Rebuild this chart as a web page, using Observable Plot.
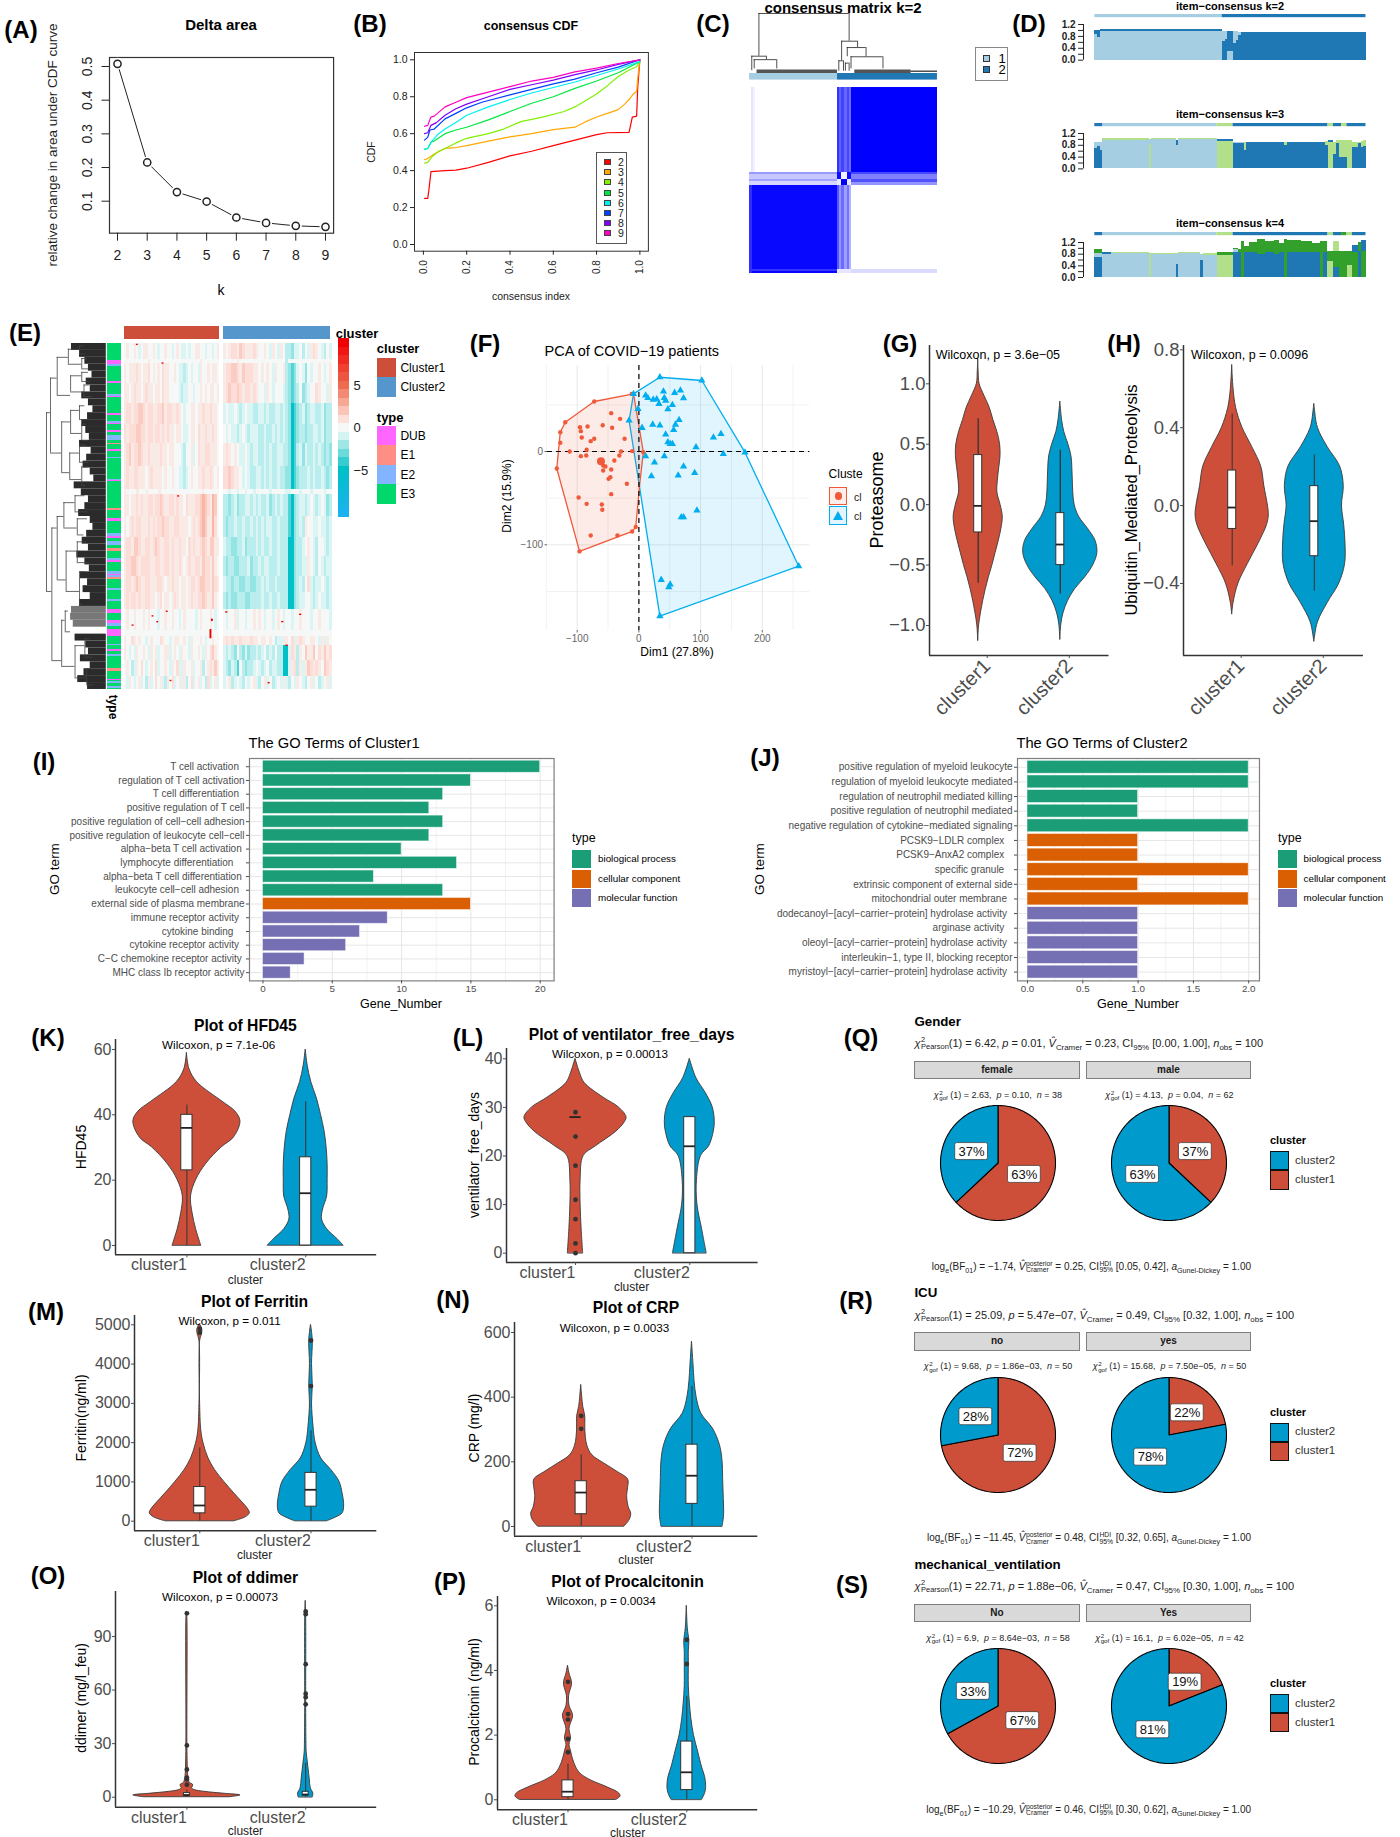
<!DOCTYPE html>
<html><head><meta charset="utf-8">
<script src="https://cdn.jsdelivr.net/npm/d3@7"></script>
<script src="https://cdn.jsdelivr.net/npm/@observablehq/plot@0.6"></script>
<style>
html,body{margin:0;padding:0;background:#fff}
#root{position:relative;width:1400px;height:1837px;overflow:hidden;background:#fff;font-family:"Liberation Sans",Arial,sans-serif}
#root>svg,#root>div{position:absolute}
.t{white-space:pre;line-height:1}
.t sub{font-size:.72em;line-height:0}
.st{display:inline-flex;flex-direction:column;vertical-align:middle;font-size:.68em;line-height:.92;margin-left:.08em}
</style></head><body><div id="root"></div>
<script>
// ---------- DATA ----------
const deltaK=[2,3,4,5,6,7,8,9];
const deltaArea=[0.508,0.215,0.127,0.099,0.0515,0.0356,0.0267,0.0238];
const cdfK=["2","3","4","5","6","7","8","9"];
const cdfColors=["#ff0000","#ffa800","#80f000","#00e840","#00f0f0","#0040ff","#8000ff","#ff00c0"];
const cdf2=[[.005,.25],[.02,.25],[.025,.29],[.035,.395],[.1,.40],[.15,.403],[.2,.413],[.3,.445],[.4,.48],[.5,.505],[.6,.535],[.7,.565],[.8,.595],[.85,.605],[.95,.607],[.965,.69],[.985,.695],[.99,.85],[1,1]];
const cdf3=[[.005,.46],[.02,.465],[.05,.49],[.1,.52],[.15,.525],[.2,.535],[.3,.56],[.4,.583],[.5,.60],[.6,.622],[.7,.635],[.75,.665],[.8,.69],[.85,.71],[.9,.73],[.93,.76],[.95,.785],[.97,.815],[.985,.83],[.99,.9],[1,1]];
const cdf4=[[.005,.44],[.02,.445],[.04,.475],[.07,.505],[.1,.52],[.15,.55],[.2,.575],[.3,.60],[.37,.625],[.45,.665],[.55,.69],[.65,.72],[.7,.745],[.75,.78],[.8,.815],[.85,.86],[.9,.91],[.95,.945],[.98,.96],[.99,.97],[1,1]];
const cdf5=[[.005,.515],[.02,.52],[.035,.555],[.05,.56],[.1,.60],[.15,.62],[.2,.635],[.3,.675],[.4,.72],[.5,.765],[.6,.80],[.7,.845],[.8,.885],[.9,.93],[.95,.96],[1,.99]];
const cdf6=[[.005,.515],[.02,.52],[.04,.56],[.07,.60],[.1,.625],[.15,.66],[.2,.70],[.3,.745],[.4,.785],[.5,.82],[.6,.85],[.7,.88],[.8,.915],[.9,.95],[1,.99]];
const cdf7=[[.005,.565],[.02,.58],[.03,.62],[.05,.625],[.1,.68],[.15,.71],[.2,.74],[.27,.77],[.4,.81],[.5,.84],[.6,.87],[.7,.895],[.8,.93],[.9,.96],[1,1]];
const cdf8=[[.005,.60],[.02,.605],[.035,.645],[.06,.66],[.1,.70],[.15,.735],[.2,.76],[.3,.80],[.4,.84],[.5,.865],[.6,.89],[.7,.92],[.8,.945],[.9,.975],[1,1]];
const cdf9=[[.005,.64],[.02,.645],[.035,.69],[.05,.695],[.1,.745],[.15,.77],[.2,.795],[.3,.825],[.4,.855],[.5,.885],[.6,.905],[.7,.935],[.8,.955],[.9,.98],[1,1]];
// consensus matrix blocks: sample x1,x2,y1,y2, consensus
const matrixBlocks=[[54.4,100,0,45.8,1],[46.8,48,0,45.8,.8],[48,49.2,0,45.8,.62],[49.2,50.6,0,45.8,.74],[50.6,52,0,45.8,.6],[52,53.2,0,45.8,.72],[53.2,54.4,0,45.8,.58],[1,2,0,45.8,.1],[2,3,0,45.8,.06],
[0,46.8,45.8,47,.4],[0,46.8,47,49.4,.22],[54.4,100,45.8,47,.72],[54.4,100,47,49.4,.5],[0,46.8,49.4,50.5,.36],[0,46.8,50.5,53,.16],[54.4,100,49.4,51,.68],[54.4,100,51,53,.42],
[46.8,49.2,45.8,49.4,.95],[49.2,52,45.8,49.4,.05],[52,54.4,45.8,49.4,.95],
[46.8,49.2,49.4,53,.08],[49.2,52,49.4,53,1],[52,54.4,49.4,53,.08],
[0,46.8,53,100,.97],[0,1.5,53,100,.82],[46.8,48,53,100,.66],[48,49.2,53,100,.42],[49.2,50.6,53,100,.58],[50.6,52,53,100,.38],[52,53.2,53,100,.55],[53.2,54.4,53,100,.3],[54.4,100,97.8,100,.14],[46.8,54.4,97.8,100,.1],[0,46.8,97.8,99,.8]];
const matrixAnnot=[[0,46.8,"#a6cee3"],[46.8,100,"#1f78b4"]];
// dendrogram merges: x1,x2,height,leftHeight,rightHeight
const matrixMerges=[[5,53,100,26,52],[1.2,9,26,1,20],[2.5,14.5,20,4,4],[49,57.5,52,18,41],[52,62,41,25,25],[54,71,25,4,4],[47.5,50,18,0,0],[51,53,14,0,0]];
const matrixBase=[[4,46.8,3.5,"#555"],[56,86,3.5,"#555"],[86,100,1.2,"#222"]];
// item-consensus: from,to then stacked colour/height pairs
const itemStrip2=[[0,47,"a"],[47,100,"b"]];
const itemStrip3=[[0,3,"b"],[3,45,"a"],[45,51,"c"],[51,86,"b"],[86,88,"c"],[88,91,"b"],[91,93,"c"],[93,100,"b"]];
const itemStrip4=[[0,3,"b"],[3,45,"a"],[45,51,"c"],[51,86,"b"],[86,88,"c"],[88,91,"b"],[91,93,"d"],[93,95,"c"],[95,100,"b"]];
const itemK2=[[0,1,"a",.85,"b",.15],[1,2,"a",.75,"b",.25],[2,47,"a",.98,"b",.04],[47,48,"b",.62,"a",.33],[48,49,"b",.68,"a",.3],[49,51,"a",.3,"b",.65],[51,52,"b",.55,"a",.4],[52,53,"b",.65,"a",.3],[53,54,"b",.82,"a",.1],[54,100,"b",.92,"a",.01]];
const itemK3=[[0,1,"b",.7,"a",.2],[1,2,"b",.75,"a",.15],[2,3,"b",.62,"a",.28],[3,20,"a",.97,"c",.05],[20,20.8,"c",.82,"a",.18],[21,30,"a",.98,"c",.04],[30,31,"a",.78,"b",.18],[31,45,"a",.98,"c",.04],[45,51,"c",.92,"b",.06],[51,55,"b",.86,"a",.02],[55,56,"b",.62,"c",.27],[56,70,"b",.88,"c",.01],[70,71,"b",.78,"c",.1],[71,85,"b",.88,"c",.01],[85,86,"b",.8,"c",.12],[86,88,"c",.88,"b",.08],[88,89,"b",.48,"c",.4],[89,90,"b",.85,"c",.1],[90,91,"b",.4,"c",.55],[91,93,"b",.4,"a",.0,"c",.55],[93,95,"c",.95],[95,97,"b",.72,"c",.18],[97,98,"b",.85,"c",.05],[98,99,"b",.72,"c",.2],[99,100,"b",.75,"c",.2]];
const itemK4=[[0,3,"b",.7,"a",.14,"d",.12],[3,6,"a",.8,"b",.05],[6,20,"a",.82,"c",.05],[20,20.8,"c",.82],[21,30,"a",.8,"c",.04],[30,31,"b",.45,"a",.35,"c",.03],[31,39,"a",.84,"c",.02],[39,40,"b",.6,"a",.2],[40,45,"a",.76,"c",.06],[45,51,"c",.75,"d",.12],[51,53,"b",.85,"a",.1,"d",.06],[53,54,"b",.85,"d",.1],[54,55,"d",1.25],[55,57,"b",.85,"d",.2],[57,60,"b",.85,"d",.35],[60,63,"b",.8,"d",.5],[63,66,"b",.85,"d",.4],[66,68,"b",.8,"d",.47],[68,70,"b",.85,"d",.3],[70,71,"d",1.3],[71,76,"b",.85,"d",.42],[76,80,"b",.85,"d",.38],[80,83,"b",.85,"d",.33],[83,84,"d",1.25],[84,85.7,"b",.85,"d",.4],[85.7,88,"c",.55,"d",.35],[88,90,"b",.35,"d",.55,"c",.35],[90,93,"d",.88,"a",.0],[93,95,"c",.4,"d",.5],[95,97,"d",.85,"b",.25],[97,98,"b",.9,"d",.3],[98,100,"d",.88,"b",.4]];
const itemColors={a:"#a6cee3",b:"#1f78b4",c:"#b2df8a",d:"#33a02c"};
// heatmap E
const heatBands=[0,14,17,35,52,70,87,107,127,131,150,168,185,202,216,231,249,254,262,275,289,300];
const heatLevelNames="abcdefghijkl";
const heatLevelValues=[-6,-5,-3.5,-2.2,-1.5,-.8,0,.6,1.1,1.7,2.5,3.5];
const heatCluster1=["ghgghgfghhgghgfgghggfghgffgfgghhggfggfgh","gggggggggghggggggggggggggggggggghggggggg","hghhhihghhighghgihhgghgffefgfggfhgghghhg","hhghihhghihhghhgihhggggfeffggfgghghghhgh","hiihiijjihiihhiijhiihhihgfgghhghhihhihhg","ihiiijjiihiihiihihihhghhgffghhgihhihhihg","hijhiijihhihhhhihhghhgggfegghfgihhiihhhg","hihhiihhhghihhhhghgghggffefghgghhihhihgh","hgggghggghgggghggggggggggggggggghgggggg","hhghhihihhiihiijihhiihihhgihhhiijkjihkjg","hghihiihhhihihiijiihhiihhhhghihijkjhhkig","hiihjjihhiihijihhiihihhihhgihihhijihjjhh","hiijjihiiiihhiihhiihihhihghihhiihjiihjhg","hiihijihhiihhhiihghhihhghhghiihijjiihjih","hihiihihhiihhghighhghihghhghihhiijihhjhg","ghgghggghghgggfgghgghggfghggggfghggghgfg","gggggggggggggggggggggggggggggggggggggggg","hggihghggfghgggihggfghhgghgfhggghgfgghgg","hgfgfhgghgfhghfgghhfghgfhggfhgghgfhgijhg","ghgefhgigfghgifgghgfhgiffhgghfggheghihjh","gfhgfghfgehfgighfehgifghfhegifghfgeifghf"];
const heatCluster2=["hghiihjihhhihgghgfhgfhgeedffgegfhihgfegf","ggggghgggggggggggggggggegggggggggggggggg","hiijjihjiiihhghghgfhgghedcdfgfdgfgghgfgh","hijiijihiihihggfhgfgggfedcdegdefggihggfh","fgffgfefgffeeffefeeffefedbcdefdeffeefdee","gfgffefgfefffeefeefefefedbcdeedeeffefdee","hihghgffgfeffeefefeeffeedbcefdfeefefeded","iijihhgfgfeeffefefeefeeddbcdeeefefeefede","ggfggfggfggfgggggfgggggffgggfgggfggggfgg","eedefdeeffefefeefdefefeecbdeffefgfefgfde","edeefeefeefefefeffeefeeecbdefehggffgffef","feeddeefdeeefefeefeefeeebbdeefghgfeggfef","edeeddeeefdeefeffeeefeeebbdeeffhgfegfeff","feedeeddeeddeefefeefeeeebbdefegifeffgfef","ededdeeeddeeeefeefeefeeebbdeffggfefgffef","gfgghfggfgghghgfggfghgfggfgghgggfgghgggf","gggggggggggggggggggggggggggggggggggggggg","hihihhihhhihhghhghgeffhhgifhihgghhgfhfhg","fefedgedfdeefefgefegeebbfihehgjhhjgihjhi","fedfecgedeefgfefgeffeebbfhiehfhjihihgjih","fghefgfegfghfeghfgefgfhfegfhgfeghfgefghf"];
const heatOutliers1=[[5,.6,1.2],[15.8,16.8,1.2],[22.4,132,1.2],[17.6,232,1.2],[11.6,236,1.2],[13.6,241,1.2],[3.2,244,1.2],[36.6,239,2],[36,248,8],[19.2,292,1.2]];
const heatOutliers2=[[23,261.5,1.2],[.8,232.6,1.2],[28,234.7,1.2],[21.4,241,1.2],[16.4,294,1.2]];
const heatLegendValues=[-10,-9,-8,-7,-6,-5,-4,-3,-2,-1,0,1,2,3,4,5,6,7,8,9,10];
const geneTypes=["DUB","E1","E2","E3"];
const geneTypeColors=["#ff66ff","#ff8f85","#82b4ff","#00d86b"];
const typeRuns=[[15,18,"DUB"],[18,20,"E2"],[33,35,"DUB"],[44,46,"E2"],[46,47,"DUB"],[61,62,"DUB"],[68,69,"E2"],[69,70,"DUB"],[75,77,"DUB"],[80,84,"E2"],[87,88,"E1"],[92,94,"DUB"],[99,100,"E2"],[118,119,"E2"],[119,120,"DUB"],[143,145,"E1"],[152,154,"DUB"],[165,167,"E2"],[167,169,"DUB"],[172,175,"E2"],[178,180,"E1"],[186,188,"E2"],[188,190,"DUB"],[198,200,"E2"],[200,201,"DUB"],[201,203,"E2"],[203,205,"E1"],[212,214,"E2"],[222,224,"E2"],[231,234,"DUB"],[240,243,"DUB"],[243,245,"E2"],[248,254,"DUB"],[261,262,"E2"],[265,267,"DUB"],[270,271,"E2"],[282,284,"E1"],[291,292,"DUB"],[293,295,"E2"],[297,299,"E2"]];
const leafHeights=[78,60,48,40,32,45,36,55,40,30,42,55,46,38,60,34,44,52,36,28,72,56,40,48,62,36,30,44,54,40,66,48,38,58,42,52,36,60,78,80,74,0,70,46,40,58,36,50,64,42];
const leafShades=[38,39,40];
const geneMerges=[[134,60,215,125,122],[125,30,95,110,100],[110,12,45,85,80],[85,5,18,60,55],[80,28,42,55,50],[100,68,112,80,82],[80,58,78,60,55],[82,95,118,60,55],[60,2,9,50,45],[55,13,22,42,38],[55,25,33,40,36],[50,36,46,38,30],[60,54,66,48,36],[55,70,84,44,40],[60,88,103,44,38],[55,107,123,40,46],[122,160,275,110,100],[110,150,205,95,90],[95,138,160,70,65],[90,180,215,65,60],[70,132,146,48,40],[65,152,166,42,50],[65,172,190,44,36],[60,198,226,46,52],[100,240,280,92,70],[92,232,250,85,80],[70,262,290,48,44],[48,256,272,36,30],[44,282,296,30,28]];
// PCA F
const pcaC1=[[-44.9,41.1],[-30.4,35],[-95.5,26.1],[-94.1,21.8],[-83.2,26.8],[-58.6,28.2],[-43.4,25.4],[-92.6,15],[-72.4,13.6],[-78.1,11.1],[-23.2,13.6],[-127.4,9.3],[-112.2,0],[-94.1,-5],[-85.4,-4.3],[-84.7,1.8],[-57.9,-15],[-54.3,-16.1],[-57.9,-20.4],[-44.9,-19.3],[-49.2,-29.3],[-46.3,-27.5],[-19.5,-34.6],[-44.9,-45.7],[-97.7,-49.3],[-84.7,-56.1],[-60.1,-56.8],[-59.3,-62.5],[-78.1,-90],[-34.7,-90],[-31.8,-4.3],[-39.8,-9.6],[-28.9,0],[-10.9,.4],[-11.6,61.8],[-72.4,53.6],[-119.4,31.4],[-127.4,20.7],[-133.1,-18.2],[-96.2,-107.1],[-10.9,-85.7],[-5.1,-81],[7.2,-.7]];
const pcaC1Mean=[[-61.5,-10.4]];
const pcaC2=[[-1.4,45.7],[5.1,25.4],[10.9,-5],[10.9,60],[14.5,57.5],[23.2,55.7],[28.9,56.1],[39.8,64.3],[41.2,57.5],[43.4,54.6],[57.9,62.9],[67.3,65.4],[72.4,57.1],[32.6,51.1],[54.3,50],[47,45.4],[22.4,28.9],[34,27.9],[59.3,28.9],[65.1,33.9],[56.4,23.2],[43.4,18.2],[47,10],[50.7,8.2],[54.3,8.2],[41.2,-5],[25.3,-11.8],[20.3,-26.4],[72.4,-16.1],[63.7,-25.7],[90.4,-22.9],[92.6,4.6],[94.1,-63.2],[72.4,-70.4],[68.7,-70.4],[36.2,-137.5],[50.7,-142.5],[48.5,-145.4],[120.8,15],[133,18.9],[136.8,-2.5],[172,-1],[259,-122.9],[102,76.1],[34,79.6],[-8.7,61.8],[-15.9,33.2],[34,-176.4]];
const hullC1=[[-8.7,61.8],[-72.4,53.6],[-119.4,31.4],[-127.4,20.7],[-133.1,-18.2],[-96.2,-107.1],[-10.9,-85.7],[-5.1,-81],[1.4,-34.6],[7.2,-.7],[-8.7,61.8]];
const hullC2=[[-8.7,61.8],[34,79.6],[102,76.1],[172,-1],[259,-122.9],[34,-176.4],[-15.9,33.2],[-8.7,61.8]];
// violins: [value, density]
const vG1=[[1.2,0],[1.1,1],[1,3],[.9,14],[.8,26],[.7,34],[.6,43],[.5,49],[.4,50],[.3,47],[.2,44],[.1,43],[0,50],[-.1,55],[-.2,52],[-.3,46],[-.4,39],[-.5,32],[-.6,24],[-.7,17],[-.8,11],[-.9,6],[-1,2],[-1.13,0]];
const vG2=[[.85,0],[.7,4],[.6,9],[.5,18],[.4,25],[.3,27],[.2,28],[.1,29],[0,32],[-.1,42],[-.2,62],[-.3,79],[-.4,83],[-.5,74],[-.6,56],[-.7,33],[-.8,17],[-.9,7],[-1,2],[-1.12,0]];
const vH1=[[.72,0],[.6,3],[.5,9],[.4,23],[.3,45],[.2,65],[.1,72],[0,80],[-.05,82],[-.1,78],[-.2,58],[-.3,35],[-.4,14],[-.5,3],[-.56,0]];
const vH2=[[.52,0],[.5,1],[.4,8],[.3,30],[.2,58],[.1,66],[0,62],[-.1,67],[-.2,70],[-.3,69],[-.4,56],[-.5,30],[-.6,8],[-.7,0]];
const vK1=[[0,28],[5,18],[10,11],[15,8],[20,18],[25,38],[30,68],[33,92],[38,105],[41,95],[44,70],[50,20],[54,5],[59,0]];
const vK2=[[0,74],[2,62],[5,42],[8,32],[11,34],[15,42],[20,43],[25,43],[30,41],[35,37],[40,30],[45,22],[50,11],[55,4],[60,0]];
const vL1=[[0,15],[5,12],[10,10],[15,10],[20,16],[22,40],[25,80],[27,97],[28,100],[30,85],[32,55],[35,18],[37,9],[40,0]];
const vL2=[[0,33],[5,24],[10,15],[15,14],[20,22],[22,38],[25,47],[27,49],[30,45],[33,31],[36,13],[40,0]];
const vM1=[[0,68],[100,90],[200,98],[300,95],[500,82],[700,68],[1000,48],[1300,30],[1600,17],[2000,7],[2300,3],[2800,1],[4600,.8],[4750,4],[4870,5],[5000,1]];
const vM2=[[0,32],[100,50],[200,62],[400,65],[700,62],[1000,56],[1300,40],[1600,20],[2000,9],[2400,5],[3000,2],[3440,3.5],[4000,2],[4600,3.5],[5000,0]];
const vN1=[[0,85],[20,95],[40,98],[60,93],[95,90],[120,92],[145,92],[170,70],[195,45],[220,22],[250,12],[300,8],[340,8],[370,4],[400,2],[438,0]];
const vN2=[[0,60],[20,62],[40,63],[100,62],[150,61],[200,60],[250,55],[300,42],[350,18],[400,9],[450,5],[500,3],[572,0]];
const vO1=[[0,85],[1,105],[2,70],[3,35],[4,15],[5,10],[6,12],[7,12],[8,6],[11,3],[15,2],[30,1],[100,1],[104,0]];
const vO2=[[0,14],[2,15],[5,10],[10,8],[15,6],[20,4],[25,2],[30,1.5],[50,1],[100,1],[110,0]];
const vP1=[[0,95],[.1,103],[.2,100],[.4,75],[.6,45],[.8,25],[1,16],[1.3,9],[1.5,6],[1.7,3],[1.9,6],[2.2,3],[2.6,10],[2.9,3],[3.2,2],[3.6,8],[3.9,3],[4.15,0]];
const vP2=[[0,30],[.2,36],[.4,38],[.7,36],[1,30],[1.5,22],[2,14],[2.5,9],[3,6],[3.5,4],[4.2,4],[4.6,4],[4.9,5],[5.3,2],[6,0]];
// boxes: whiskerLow,q1,median,q3,whiskerHigh
const bG1=[-.65,-.23,-.01,.41,.71], bG2=[-.74,-.5,-.33,-.07,.45];
const bH1=[-.31,-.12,-.01,.18,.47], bH2=[-.44,-.26,-.08,.1,.26];
const bK1=[0,23,36,40,43], bK2=[0,0,16,27,44];
const bL1=[28,28,28,28,28], bL2=[0,0,22,28,28];
const bM1=[0,200,400,870,1870], bM2=[0,370,800,1230,2300];
const bN1=[0,38,105,140,222], bN2=[0,70,157,253,433];
const bO1=[0,.8,1.2,2.3,4], bO2=[0,1,1.5,3,19];
const bP1=[0,.08,.25,.6,1.1], bP2=[0,.3,.85,1.8,3.2];
const oL1=[29,24,18,11,7,2,0], oM1=[4800,4900], oM2=[3440,4600], oN1=[302,342];
const oO1=[103,29,15.5,11,10,7], oO2=[104,102.5,74.5,58,56,52];
const oP1=[1.47,1.88,2.48,2.65,3.65], oP2=[4.2,4.95];
// GO terms
const goTypes=["biological process","cellular component","molecular function"];
const goColors=["#1b9e77","#d95f02","#7570b3"];
const nb="\u00a0";
const goTerms1=["T cell activation"+nb+nb,"regulation of T cell activation","T cell differentiation"+nb+nb,"positive regulation of T cell","positive regulation of cell−cell adhesion","positive regulation of leukocyte cell−cell","alpha−beta T cell activation"+nb,"lymphocyte differentiation"+nb+nb+nb+nb,"alpha−beta T cell differentiation"+nb,"leukocyte cell−cell adhesion"+nb+nb,"external side of plasma membrane","immune receptor activity"+nb+nb,"cytokine binding"+nb+nb+nb+nb,"cytokine receptor activity"+nb+nb,"C−C chemokine receptor activity"+nb,"MHC class Ib receptor activity"];
const goCounts1=[20,15,13,12,13,12,10,14,8,13,15,9,7,6,3,2];
const goTypeIdx1=[0,0,0,0,0,0,0,0,0,0,1,2,2,2,2,2];
const goTerms2=["positive regulation of myeloid leukocyte","regulation of myeloid leukocyte mediated","regulation of neutrophil mediated killing","positive regulation of neutrophil mediated","negative regulation of cytokine−mediated signaling","PCSK9−LDLR complex"+nb+nb+nb,"PCSK9−AnxA2 complex"+nb+nb+nb,"specific granule"+nb+nb+nb,"extrinsic component of external side","mitochondrial outer membrane"+nb+nb,"dodecanoyl−[acyl−carrier−protein] hydrolase activity"+nb+nb,"arginase activity"+nb+nb+nb,"oleoyl−[acyl−carrier−protein] hydrolase activity"+nb+nb,"interleukin−1, type II, blocking receptor","myristoyl−[acyl−carrier−protein] hydrolase activity"+nb+nb];
const goCounts2=[2,2,1,1,2,1,1,2,1,2,1,1,1,1,1];
const goTypeIdx2=[0,0,0,0,0,1,1,1,1,1,2,2,2,2,2];
// Pies: share of cluster1 in each facet
const pieTitles=["Gender","ICU","mechanical_ventilation"];
const pieFacets=[["female","male"],["no","yes"],["No","Yes"]];
const pieCluster1=[[63,37],[72,22],[67,19]];
const pieCluster2=[[37,63],[28,78],[33,81]];
const pieChi=[["6.42","<i>p</i> = 0.01","0.23","[0.00, 1.00]"],["25.09","<i>p</i> = 5.47e−07","0.49","[0.32, 1.00]"],["22.71","<i>p</i> = 1.88e−06","0.47","[0.30, 1.00]"]];
const pieGof=[[["2.63","0.10","38"],["4.13","0.04","62"]],[["9.68","1.86e−03","50"],["15.68","7.50e−05","50"]],[["6.9","8.64e−03","58"],["16.1","6.02e−05","42"]]];
const pieBayes=[["−1.74","0.25","[0.05, 0.42]"],["−11.45","0.48","[0.32, 0.65]"],["−10.29","0.46","[0.30, 0.62]"]];

// ---------- HELPERS ----------
const root=document.getElementById("root");
const FONT='"Liberation Sans",Arial,sans-serif';
const RED="#cd4f39",BLUE="#009acd",INK="#333";
const cal=(v0,p0,v1,p1,a,b)=>{const f=p=>v0+(p-p0)*(v1-v0)/(p1-p0);return [f(a),f(b)];};
function panel({l,r,t,b,x,y,color,marks,ml=70,mr=12,mt=12,mb=50}){
  const o={width:r-l+ml+mr,height:b-t+mt+mb,marginLeft:ml,marginRight:mr,marginTop:mt,marginBottom:mb,
    x:{axis:null,...x},y:{axis:null,...y},marks,style:{background:"transparent",overflow:"visible",fontFamily:FONT}};
  if(color)o.color=color;
  const p=Plot.plot(o);
  p.style.position="absolute";p.style.left=(l-ml)+"px";p.style.top=(t-mt)+"px";
  root.appendChild(p);return p;
}
function txt(x,y,s,{size=12,weight="normal",anchor="start",rot=0,color="#000",html=false}={}){
  const d=document.createElement("div");d.className="t";
  const tx=anchor==="middle"?"-50%":anchor==="end"?"-100%":"0";
  d.style.cssText=`left:${x}px;top:${y}px;font-size:${size}px;font-weight:${weight};color:${color};transform:translate(${tx},-50%)${rot?` rotate(${rot}deg)`:""}`;
  if(html)d.innerHTML=s;else d.textContent=s;root.appendChild(d);return d;
}
function box(x,y,w,h,fill,stroke,sw=1){
  const d=document.createElement("div");
  d.style.cssText=`left:${x}px;top:${y}px;width:${w}px;height:${h}px;box-sizing:border-box;background:${fill};${stroke?`border:${sw}px solid ${stroke}`:""}`;
  root.appendChild(d);return d;
}
const pts=a=>a.map(([x,y])=>({x,y}));

// ---------- PANEL LABELS ----------
[["(A)",21,30],["(B)",370,24],["(C)",713,24],["(D)",1029,24],["(E)",25,333],["(F)",485,344],["(G)",900,344],["(H)",1124,344],["(I)",44,762],["(J)",765,758],["(K)",48,1038],["(L)",468,1038],["(M)",46,1312],["(N)",453,1300],["(O)",48,1576],["(P)",450,1582],["(Q)",861,1038],["(R)",856,1301],["(S)",852,1585]]
.forEach(([s,x,y])=>txt(x,y,s,{size:24,weight:"bold",anchor:"middle"}));

// ---------- A ----------
{const l=109.4,r=333.5,t=57,b=232.7;
 panel({l,r,t,b,x:{domain:cal(2,117.4,9,325.4,l,r)},y:{domain:cal(.1,200.7,.5,66,b,t)},marks:[
  Plot.frame({stroke:INK,strokeWidth:1.2}),
  Plot.line(deltaK.map((k,i)=>({k,v:deltaArea[i]})),{x:"k",y:"v",stroke:"#222",strokeWidth:1}),
  Plot.dot(deltaK.map((k,i)=>({k,v:deltaArea[i]})),{x:"k",y:"v",r:6,fill:"white",stroke:"none"}),
  Plot.dot(deltaK.map((k,i)=>({k,v:deltaArea[i]})),{x:"k",y:"v",r:3.6,fill:"white",stroke:"#222"}),
  Plot.axisX({ticks:deltaK,tickFormat:d=>d,tickSize:8,tickPadding:9,fontSize:14,label:null,color:"#222"}),
  Plot.axisY({ticks:[.1,.2,.3,.4,.5],tickFormat:d=>d.toFixed(1),tickSize:7.5,tickPadding:10,tickRotate:-90,fontSize:14,label:null,color:"#222"})
 ]});
 txt(221,24,"Delta area",{size:15,weight:"bold",anchor:"middle"});
 txt(221,290,"k",{size:14,anchor:"middle"});
 txt(53,145,"relative change in area under CDF curve",{size:13.5,anchor:"middle",rot:-90,color:"#222"});
}
// ---------- B ----------
{const l=414.3,r=648.2,t=52,b=250.7;
 const series=[cdf2,cdf3,cdf4,cdf5,cdf6,cdf7,cdf8,cdf9];
 panel({l,r,t,b,x:{domain:cal(0,423.2,1,639.7,l,r)},y:{domain:cal(0,244,1,59.3,b,t)},marks:[
  Plot.frame({stroke:INK,strokeWidth:1}),
  ...series.map((s,i)=>Plot.line(pts(s),{x:"x",y:"y",stroke:cdfColors[i],strokeWidth:1.2})),
  Plot.axisX({ticks:[0,.2,.4,.6,.8,1],tickFormat:d=>d.toFixed(1),tickSize:4,tickPadding:5,tickRotate:-90,fontSize:10,label:null,color:"#222"}),
  Plot.axisY({ticks:[0,.2,.4,.6,.8,1],tickFormat:d=>d.toFixed(1),tickSize:4,tickPadding:3,fontSize:10.5,label:null,color:"#222"})
 ]});
 txt(531,26,"consensus CDF",{size:12.5,weight:"bold",anchor:"middle"});
 txt(531,296,"consensus index",{size:10.5,anchor:"middle",color:"#222"});
 txt(371,152,"CDF",{size:10.5,anchor:"middle",rot:-90,color:"#222"});
 box(596.4,151.7,30.4,92,"#fff","#555");
 cdfK.forEach((k,i)=>{const y=162+i*10.2;box(604.4,y-3,6.2,6,cdfColors[i],"#444",.5);txt(621,y,k,{size:10.5,anchor:"middle",color:"#222"});});
}
// ---------- C ----------
{const l=749,r=937;
 panel({l,r,t:86.7,b:272.3,ml:2,mr:2,mt:2,mb:2,x:{domain:[0,100]},y:{domain:[100,0]},
  color:{type:"linear",domain:[0,1],range:["#ffffff","#0000ff"]},marks:[
  Plot.rect(matrixBlocks,{x1:d=>d[0],x2:d=>d[1],y1:d=>d[2],y2:d=>d[3],fill:d=>d[4],shapeRendering:"crispEdges"})]});
 panel({l,r,t:72.7,b:79.3,ml:2,mr:2,mt:2,mb:2,x:{domain:[0,100]},y:{domain:[0,1]},marks:[
  Plot.rect(matrixAnnot,{x1:d=>d[0],x2:d=>d[1],y1:0,y2:1,fill:d=>d[2]})]});
 panel({l,r,t:13.3,b:71,ml:2,mr:2,mt:2,mb:2,x:{domain:[0,100]},y:{domain:[0,100]},marks:[
  Plot.ruleY(matrixMerges,{x1:d=>d[0],x2:d=>d[1],y:d=>d[2],stroke:"#222",strokeWidth:.8}),
  Plot.ruleX(matrixMerges,{x:d=>d[0],y1:d=>d[2],y2:d=>d[3],stroke:"#222",strokeWidth:.8}),
  Plot.ruleX(matrixMerges,{x:d=>d[1],y1:d=>d[2],y2:d=>d[4],stroke:"#222",strokeWidth:.8}),
  Plot.ruleY(matrixBase,{x1:d=>d[0],x2:d=>d[1],y:0,stroke:d=>d[3],strokeWidth:d=>d[2]})]});
 txt(843,7,"consensus matrix k=2",{size:15,weight:"bold",anchor:"middle"});
 box(974.6,47,33.4,34,"#fff","#888");
 [["1","#a6cee3",58],["2","#1f78b4",69.3]].forEach(([s,c,y])=>{box(983,y-3.5,7,7,c,"#333",.5);txt(1002,y,s,{size:13,anchor:"middle"});});
}
// ---------- D ----------
function itemPanel(runs,strip,y0,y1,stripY,title,titleY){
 const stacked=[];
 runs.forEach(([a,b,...seg])=>{let h=0;for(let i=0;i<seg.length;i+=2){stacked.push({a,b,h0:h,h1:h+seg[i+1],c:itemColors[seg[i]]});h+=seg[i+1];}});
 const l=1083,r=1366,t=y1-2,b=y0;
 const xd=cal(0,1094.2,100,1366,l,r);
 panel({l,r,t,b,mb:4,mt:4,x:{domain:xd},y:{domain:cal(0,y0,1.2,y1,b,t)},marks:[
  Plot.rect(stacked,{x1:"a",x2:"b",y1:"h0",y2:"h1",fill:"c",shapeRendering:"crispEdges"}),
  Plot.ruleX([xd[0]],{y1:0,y2:1.2,stroke:"#222"}),
  Plot.axisY({ticks:[0,.2,.4,.6,.8,1,1.2],tickFormat:d=>Math.round(d*10)%4===0?d.toFixed(1):"",tickSize:5,tickPadding:3,fontSize:10,fontWeight:"bold",label:null,color:"#222"})
 ]});
 panel({l:1094.2,r:1366,t:stripY-1.6,b:stripY+1.6,ml:1,mr:1,mt:1,mb:1,x:{domain:[0,100]},y:{domain:[0,1]},marks:[
  Plot.rect(strip,{x1:d=>d[0],x2:d=>d[1],y1:0,y2:1,fill:d=>itemColors[d[2]]})]});
 txt(1230,titleY,title,{size:11,weight:"bold",anchor:"middle"});
}
itemPanel(itemK2,itemStrip2,60,24.3,16,"item−consensus k=2",6);
itemPanel(itemK3,itemStrip3,168.7,133.3,125,"item−consensus k=3",114);
itemPanel(itemK4,itemStrip4,277.3,242.3,233.3,"item−consensus k=4",223);

// ---------- E ----------
{const heatColor={type:"linear",domain:[-10,-5,-3,-1,0,1,3,5,10],range:["#1ab2f0","#00c0c8","#6adada","#d4f3f3","#f6f8f8","#fde0da","#f7a895","#ee6a50","#f00000"]};
 const decode=(rows)=>rows.flatMap((s,i)=>[...s].map((c,j)=>({x0:j*40/s.length,x1:(j+1)*40/s.length,y0:heatBands[i],y1:heatBands[i+1],v:heatLevelValues[heatLevelNames.indexOf(c)]})));
 const heat=(rows,outs,l,r)=>panel({l,r,t:343,b:689,ml:1,mr:1,mt:1,mb:1,x:{domain:[0,40]},y:{domain:[300,0]},color:heatColor,marks:[
  Plot.rect(decode(rows),{x1:"x0",x2:"x1",y1:"y0",y2:"y1",fill:"v",shapeRendering:"crispEdges"}),
  Plot.rect(outs,{x1:d=>d[0],x2:d=>d[0]+.8,y1:d=>d[1],y2:d=>d[1]+d[2],fill:()=>10})]});
 heat(heatCluster1,heatOutliers1,124,219);
 heat(heatCluster2,heatOutliers2,223,331.7);
 box(124,326,95,13.3,RED);box(223,326,107.4,13.3,"#5597cc");
 panel({l:338,r:349,t:343,b:512,ml:1,mr:30,mt:1,mb:1,x:{domain:[0,1]},y:{domain:cal(5,385,-5,470,512,343)},color:heatColor,marks:[
  Plot.rect(heatLegendValues,{x1:0,x2:1,y1:d=>d-.5,y2:d=>d+.5,fill:d=>d,shapeRendering:"crispEdges"}),
  Plot.axisY({anchor:"right",ticks:[-5,0,5],tickFormat:d=>d<0?"−"+(-d):String(d),tickSize:0,tickPadding:4,fontSize:13,label:null,color:"#222"})]});
 panel({l:107,r:120.5,t:343,b:689,ml:1,mr:1,mt:1,mb:1,x:{domain:[0,1]},y:{domain:[300,0]},color:{domain:geneTypes,range:geneTypeColors},marks:[
  Plot.rect([[0,300,"E3"],...typeRuns],{x1:0,x2:1,y1:d=>d[0],y2:d=>d[1],fill:d=>d[2],shapeRendering:"crispEdges"})]});
 panel({l:46,r:105.8,t:343,b:689,ml:1,mr:1,mt:1,mb:1,x:{domain:[134,0]},y:{domain:[300,0]},marks:[
  Plot.rect(leafHeights,{x1:0,x2:d=>d,y1:(d,i)=>i*6,y2:(d,i)=>i*6+6,fill:(d,i)=>leafShades.includes(i)?"#777":"#2b2b2b"}),
  Plot.ruleX(geneMerges,{x:d=>d[0],y1:d=>d[1],y2:d=>d[2],stroke:"#444",strokeWidth:.8}),
  Plot.ruleY(geneMerges,{y:d=>d[1],x1:d=>d[0],x2:d=>d[3],stroke:"#444",strokeWidth:.8}),
  Plot.ruleY(geneMerges,{y:d=>d[2],x1:d=>d[0],x2:d=>d[4],stroke:"#444",strokeWidth:.8})]});
 txt(335.7,333,"cluster",{size:13,weight:"bold"});
 txt(376.8,348,"cluster",{size:13,weight:"bold"});
 box(376.8,357.7,19.2,19.6,RED);box(376.8,377.3,19.2,19.4,"#5597cc");
 txt(400.4,367.5,"Cluster1",{size:12});txt(400.4,387,"Cluster2",{size:12});
 txt(376.8,416.7,"type",{size:13,weight:"bold"});
 geneTypes.forEach((g,i)=>{box(376.8,426+i*19.45,19.2,19.45,geneTypeColors[i]);txt(400.4,435.7+i*19.45,g,{size:12});});
 txt(113,707,"type",{size:12,weight:"bold",anchor:"middle",rot:90});
}
// ---------- F ----------
{const l=547,r=809.4,t=365,b=630;
 const R="#f0593a",B="#00aeef";
 const P=pts;
 panel({l,r,t,b,x:{domain:cal(0,638.4,100,700.1,l,r)},y:{domain:cal(0,451,-100,544.3,b,t)},marks:[
  Plot.gridX({ticks:[-150,-50,50,150,250],stroke:"#f2f2f2",strokeOpacity:1}),
  Plot.gridY({ticks:[-150,-50,50],stroke:"#f2f2f2",strokeOpacity:1}),
  Plot.gridX({ticks:[-100,0,100,200],stroke:"#e8e8e8",strokeOpacity:1}),
  Plot.gridY({ticks:[-100,0],stroke:"#e8e8e8",strokeOpacity:1}),
  Plot.line(P(hullC2),{x:"x",y:"y",fill:B,fillOpacity:.12,stroke:B,strokeWidth:1.3}),
  Plot.line(P(hullC1),{x:"x",y:"y",fill:R,fillOpacity:.12,stroke:R,strokeWidth:1.3}),
  Plot.ruleY([0],{stroke:"#000",strokeWidth:1.2,strokeDasharray:"5,4"}),
  Plot.ruleX([0],{stroke:"#000",strokeWidth:1.2,strokeDasharray:"5,4"}),
  Plot.dot(P(pcaC1),{x:"x",y:"y",r:2.2,fill:R,stroke:"none"}),
  Plot.dot(P(pcaC1Mean),{x:"x",y:"y",r:4,fill:R,stroke:"none"}),
  Plot.dot(P(pcaC2),{x:"x",y:"y",r:2.7,symbol:"triangle",fill:B,stroke:"none"}),
  Plot.axisX({ticks:[-100,0,100,200],tickFormat:d=>d<0?"−"+(-d):String(d),tickSize:2.5,tickPadding:2,fontSize:10,label:null,color:"#666"}),
  Plot.axisY({ticks:[-100,0],tickFormat:d=>d<0?"−"+(-d):String(d),tickSize:2.5,tickPadding:2,fontSize:10,label:null,color:"#666"})
 ]});
 txt(544.6,351,"PCA of COVID−19 patients",{size:14.5});
 txt(677,652,"Dim1 (27.8%)",{size:12,anchor:"middle"});
 txt(507,496,"Dim2 (15.9%)",{size:12,anchor:"middle",rot:-90});
 txt(828.6,474,"Cluste",{size:12});
 box(829,486.7,18.3,18.8,"#fdeee9",R,1);box(829,506,18.3,19,"#e3f4fc",B,1);
 const c=document.createElement("div");c.style.cssText=`left:834.5px;top:492px;width:7.5px;height:7.5px;border-radius:50%;background:${R}`;root.appendChild(c);
 const tr=document.createElement("div");tr.style.cssText=`left:832.5px;top:511px;width:0;height:0;border-left:5.5px solid transparent;border-right:5.5px solid transparent;border-bottom:9px solid ${B}`;root.appendChild(tr);
 txt(854,497,"cl",{size:10.5,color:"#222"});txt(854,516,"cl",{size:10.5,color:"#222"});
}
// ---------- VIOLINS ----------
function violin({l,r,t,b,xc,yc,sx,yTicks,yFmt=d=>String(d),v1,v2,b1,b2,o1=[],o2=[],boxPx,fs=16,rotate=false,boxLw=1}){
 const xd=cal(1,xc[0],2,xc[1],l,r),k=1/(sx*(xc[1]-xc[0])),bh=boxPx/(xc[1]-xc[0]);
 const yd=cal(yc[0],yc[1],yc[2],yc[3],b,t);
 const draw=(c,v,bx,o,fill)=>[
  Plot.areaX(pts(v),{y:"x",x1:d=>c-d.y*k,x2:d=>c+d.y*k,fill,stroke:"#3a3a3a",strokeWidth:.9,curve:"catmull-rom"}),
  Plot.ruleX([c],{y1:bx[0],y2:bx[4],stroke:"#333",strokeWidth:boxLw}),
  Plot.rect([bx],{x1:c-bh,x2:c+bh,y1:d=>d[1],y2:d=>d[3],fill:"white",stroke:"#333",strokeWidth:1}),
  Plot.ruleY([bx[2]],{x1:c-bh,x2:c+bh,stroke:"#222",strokeWidth:1.8}),
  Plot.dot(o,{x:()=>c,y:d=>d,r:2.4,fill:"#333",stroke:"none"})];
 panel({l,r,t,b,x:{domain:xd},y:{domain:yd},marks:[
  ...draw(1,v1,b1,o1,RED),...draw(2,v2,b2,o2,BLUE),
  Plot.ruleX([xd[0]],{stroke:INK,strokeWidth:1.5}),
  Plot.ruleY([yd[0]],{stroke:INK,strokeWidth:1.5}),
  rotate?Plot.axisX({ticks:[1,2],tickFormat:d=>"cluster"+d,tickSize:3,tickPadding:4,tickRotate:-45,fontSize:20,dx:9,label:null,color:"#4d4d4d"})
        :Plot.axisX({ticks:[1,2],tickFormat:d=>"cluster"+d,tickSize:3,tickPadding:1,textAnchor:"end",fontSize:fs,label:null,color:"#4d4d4d"}),
  Plot.axisY({ticks:yTicks,tickFormat:yFmt,tickSize:3,tickPadding:1,fontSize:rotate?18.5:16,label:null,color:"#4d4d4d"})
 ]});
}
const minus=d=>String(d).replace("-","−");
violin({l:929,r:1108.5,t:345,b:655,xc:[977.7,1059.8],yc:[1,383.3,-1,625],sx:2.24,yTicks:[-1,-.5,0,.5,1],yFmt:d=>minus(d.toFixed(1)),v1:vG1,v2:vG2,b1:bG1,b2:bG2,boxPx:4,rotate:true,boxLw:1.3});
txt(935.7,354.7,"Wilcoxon, p = 3.6e−05",{size:12.5});
txt(877,500,"Proteasome",{size:18,anchor:"middle",rot:-90});
violin({l:1182.6,r:1362.5,t:345,b:655,xc:[1231.3,1313.4],yc:[.8,349.3,-.4,583],sx:2.24,yTicks:[-.4,0,.4,.8],yFmt:d=>minus(d.toFixed(1)),v1:vH1,v2:vH2,b1:bH1,b2:bH2,boxPx:4,rotate:true});
txt(1191,354.7,"Wilcoxon, p = 0.0096",{size:12.5});
txt(1131,500,"Ubiquitin_Mediated_Proteolysis",{size:16.5,anchor:"middle",rot:-90});

function violinText({cx,title,titleY,wx,wy,wil,xlY,yl,ylX,ylY}){
 txt(cx,titleY,title,{size:15.7,weight:"bold",anchor:"middle"});
 txt(wx,wy,wil,{size:11.7});
 txt(cx,xlY,"cluster",{size:12,anchor:"middle",color:"#222"});
 txt(ylX,ylY,yl,{size:14,anchor:"middle",rot:-90});
}
violin({l:114.8,r:376,t:1039,b:1254.3,xc:[186.2,305],yc:[60,1049,0,1245],sx:1.96,yTicks:[0,20,40,60],v1:vK1,v2:vK2,b1:bK1,b2:bK2,boxPx:5.6});
violinText({cx:245.4,title:"Plot of HFD45",titleY:1025.7,wx:162,wy:1045,wil:"Wilcoxon, p = 7.1e-06",xlY:1279.7,yl:"HFD45",ylX:80.6,ylY:1146.7});
violin({l:506,r:757.6,t:1048,b:1262,xc:[575,689.3],yc:[40,1058.3,0,1252.7],sx:1.96,yTicks:[0,10,20,30,40],v1:vL1,v2:vL2,b1:bL1,b2:bL2,o1:oL1,boxPx:5.6});
violinText({cx:631.6,title:"Plot of ventilator_free_days",titleY:1035.3,wx:552,wy:1054.3,wil:"Wilcoxon, p = 0.00013",xlY:1287,yl:"ventilator_free_days",ylX:473.5,ylY:1155});
violin({l:133.7,r:376,t:1315,b:1530.3,xc:[199,310.2],yc:[5000,1324.3,0,1520.7],sx:1.96,yTicks:[0,1000,2000,3000,4000,5000],v1:vM1,v2:vM2,b1:bM1,b2:bM2,o1:oM1,o2:oM2,boxPx:5.6});
violinText({cx:254.6,title:"Plot of Ferritin",titleY:1301.7,wx:178.6,wy:1321,wil:"Wilcoxon, p = 0.011",xlY:1555.3,yl:"Ferritin(ng/ml)",ylX:80.6,ylY:1418});
violin({l:514.3,r:757.6,t:1322,b:1535.7,xc:[581,691.8],yc:[600,1332,0,1526],sx:1.96,yTicks:[0,200,400,600],v1:vN1,v2:vN2,b1:bN1,b2:bN2,o1:oN1,boxPx:5.6});
violinText({cx:636,title:"Plot of CRP",titleY:1308.3,wx:559.7,wy:1327.7,wil:"Wilcoxon, p = 0.0033",xlY:1560,yl:"CRP (mg/l)",ylX:473.5,ylY:1428});
violin({l:114.8,r:376,t:1591,b:1806.7,xc:[186.2,305],yc:[90,1636,0,1796.7],sx:1.96,yTicks:[0,30,60,90],v1:vO1,v2:vO2,b1:bO1,b2:bO2,o1:oO1,o2:oO2,boxPx:3});
violinText({cx:245.4,title:"Plot of ddimer",titleY:1577.7,wx:162,wy:1596.7,wil:"Wilcoxon, p = 0.00073",xlY:1831.3,yl:"ddimer (mg/l_feu)",ylX:80.6,ylY:1698});
violin({l:497.4,r:757.6,t:1595.7,b:1809,xc:[567.9,686.7],yc:[6,1605,0,1799],sx:1.96,yTicks:[0,2,4,6],v1:vP1,v2:vP2,b1:bP1,b2:bP2,o1:oP1,o2:oP2,boxPx:5.6});
violinText({cx:627.6,title:"Plot of Procalcitonin",titleY:1582.3,wx:546.4,wy:1601.3,wil:"Wilcoxon, p = 0.0034",xlY:1833,yl:"Procalcitonin (ng/ml)",ylX:473.5,ylY:1701.7});

// ---------- GO ----------
function goPanel({l,r,t,b,terms,counts,idx,xCal,ticks,minor,fmt,tx,ylx,gnx}){
 const data=terms.map((term,i)=>({term,n:counts[i],type:goTypes[idx[i]]}));
 panel({l,r,t,b,ml:250,x:{domain:cal(xCal[0],xCal[1],xCal[2],xCal[3],l,r)},
  y:{type:"band",domain:terms,round:false,paddingInner:.12,paddingOuter:.16},color:{domain:goTypes,range:goColors},marks:[
  Plot.gridX({ticks:minor,stroke:"#f2f2f2",strokeOpacity:1}),
  Plot.gridX({ticks,stroke:"#e6e6e6",strokeOpacity:1}),
  Plot.gridY({stroke:"#e6e6e6",strokeOpacity:1}),
  Plot.barX(data,{x:"n",y:"term",fill:"type",stroke:"#fff",strokeOpacity:.6,strokeWidth:.8}),
  Plot.frame({stroke:"#7f7f7f",strokeWidth:1.2}),
  Plot.axisX({ticks,tickFormat:fmt,tickSize:3,tickPadding:1,fontSize:9.8,label:null,color:"#4d4d4d"}),
  Plot.axisY({tickSize:3,tickPadding:2,fontSize:10,label:null,color:"#4d4d4d"})
 ]});
 txt(tx[0],743.3,tx[1],{size:14.7,anchor:"middle"});
 txt(gnx,1004,"Gene_Number",{size:12.5,anchor:"middle"});
 txt(ylx,869.3,"GO term",{size:13.5,anchor:"middle",rot:-90});
}
goPanel({l:249,r:553.6,t:758.3,b:980.7,terms:goTerms1,counts:goCounts1,idx:goTypeIdx1,xCal:[0,262.5,20,539.7],ticks:[0,5,10,15,20],minor:[2.5,7.5,12.5,17.5],fmt:d=>String(d),tx:[334,"The GO Terms of Cluster1"],ylx:55,gnx:401});
goPanel({l:1017,r:1259,t:758.3,b:980.7,terms:goTerms2,counts:goCounts2,idx:goTypeIdx2,xCal:[0,1027,2,1248.2],ticks:[0,.5,1,1.5,2],minor:[.25,.75,1.25,1.75],fmt:d=>d.toFixed(1),tx:[1102,"The GO Terms of Cluster2"],ylx:760,gnx:1138});
[[572,598],[1278,1303.6]].forEach(([x,tx])=>{
 txt(x,837.7,"type",{size:12.5});
 goTypes.forEach((g,i)=>{const y=850+i*19.5;box(x,y,18.6,18,goColors[i]);txt(tx,y+9,g,{size:9.8});});
});

// ---------- PIES ----------
function wedge(a0,a1){const p=[{x:0,y:0}];for(let a=a0;a<a1;a+=1.5)p.push({x:Math.sin(a*Math.PI/180),y:Math.cos(a*Math.PI/180)});
 p.push({x:Math.sin(a1*Math.PI/180),y:Math.cos(a1*Math.PI/180)},{x:0,y:0});return p;}
function pie(cx,cy,c1,c2){
 const r=57.5,a=c1*3.6,hx=16.4/r,hy=8.5/r;
 const lab=(pct,from,to)=>{const m=(from+to)/2*Math.PI/180;return {x:.5*Math.sin(m),y:.5*Math.cos(m),s:pct+"%"};};
 const labels=[lab(c1,0,a),lab(c2,a,360)];
 panel({l:cx-r,r:cx+r,t:cy-r,b:cy+r,ml:2,mr:2,mt:2,mb:2,x:{domain:[-1,1]},y:{domain:[-1,1]},marks:[
  Plot.line(wedge(0,a),{x:"x",y:"y",fill:RED,stroke:"#000",strokeWidth:1.1}),
  Plot.line(wedge(a,360),{x:"x",y:"y",fill:BLUE,stroke:"#000",strokeWidth:1.1}),
  Plot.rect(labels,{x1:d=>d.x-hx,x2:d=>d.x+hx,y1:d=>d.y-hy,y2:d=>d.y+hy,fill:"white",stroke:"#333",strokeWidth:.7,rx:2}),
  Plot.text(labels,{x:"x",y:"y",text:"s",fontSize:13,fill:"#111"})
 ]});
}
const stack=(a,b)=>`<span class="st"><span>${a}</span><span>${b}</span></span>`;
const chi=s=>`<i>χ</i>${stack("2",s)}`;
const vhat=`<i>V\u0302</i>`;
pieTitles.forEach((title,i)=>{
 const dy=[0,271.4,542.8][i];
 txt(914.4,1022+dy,title,{size:13.3,weight:"bold"});
 const c=pieChi[i];
 txt(914.4,1044.3+dy,`${chi("Pearson")}(1) = ${c[0]}, ${c[1]}, ${vhat}<sub>Cramer</sub> = ${c[2]}, CI<sub>95%</sub> ${c[3]}, <i>n</i><sub>obs</sub> = 100`,{size:11,html:true,color:"#222"});
 [[914.4,165.4,997],[1085.6,165.4,1168.5]].forEach(([x,w,cx],j)=>{
  box(x,1060.7+dy,w,18.6,"#d9d9d9","#7f7f7f");
  txt(cx,1070+dy,pieFacets[i][j],{size:10,weight:"bold",anchor:"middle",color:"#1a1a1a"});
  const g=pieGof[i][j];
  txt(cx+1,1095.7+dy,`${chi("gof")} (1) = ${g[0]},  <i>p</i> = ${g[1]},  <i>n</i> = ${g[2]}`,{size:9,html:true,anchor:"middle",color:"#222"});
  pie(cx,1162.7+dy,pieCluster1[i][j],pieCluster2[i][j]);
 });
 const e=pieBayes[i];
 txt(1251,1267+dy,`log<sub>e</sub>(BF<sub>01</sub>) = ${e[0]}, ${vhat}${stack("posterior","Cramer")} = ${e[1]}, CI${stack("HDI","95%")} ${e[2]}, <i>a</i><sub>Gunel-Dickey</sub> = 1.00`,{size:10,html:true,anchor:"end",color:"#222"});
 txt(1270,1140.3+dy,"cluster",{size:11,weight:"bold"});
 box(1270,1151.3+dy,19,19,BLUE,"#111",1);box(1270,1170.3+dy,19,19.4,RED,"#111",1);
 txt(1295,1161+dy,"cluster2",{size:11.5,color:"#333"});
 txt(1295,1180+dy,"cluster1",{size:11.5,color:"#333"});
});
</script></body></html>
